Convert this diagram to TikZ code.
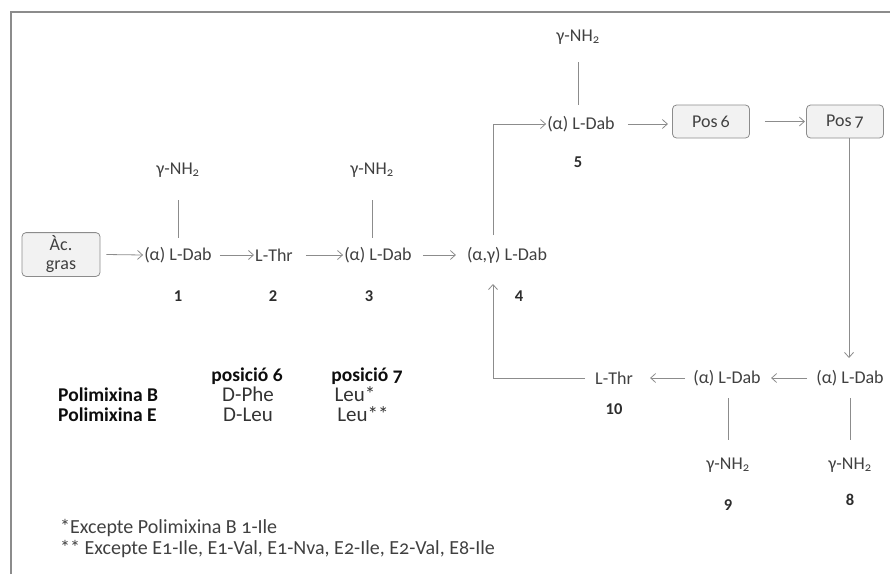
\documentclass[tikz,border=0pt]{standalone}
\usepackage{fontspec}
\setmainfont[Numbers=OldStyle]{Carlito}
\newfontfamily\liningfont{Carlito}
\usetikzlibrary{arrows.meta}
\definecolor{ln}{HTML}{8C8C8C}
\definecolor{tx}{HTML}{404040}
\definecolor{bx}{HTML}{F2F2F2}
\tikzset{
  aa/.style={text=tx, font=\fontsize{18}{20}\selectfont, inner sep=1pt},
  nh/.style={text=tx, font=\fontsize{18}{20}\selectfont, inner sep=1pt},
  num/.style={text=tx!70!black, font=\fontsize{16.5}{18}\selectfont\bfseries\liningfont, inner sep=1pt},
  posbox/.style={draw=ln, fill=bx, rounded corners=4pt, minimum width=77pt, minimum height=33pt, text=tx, font=\fontsize{18}{20}\selectfont, line width=0.8pt},
  conn/.style={draw=ln, line width=0.8pt, -{Straight Barb[length=5pt,width=9pt]}},
  bond/.style={draw=ln, line width=0.8pt},
  tbl/.style={font=\fontsize{21}{22}\selectfont, text=black!80, inner sep=0pt, text height=12pt, text depth=3pt},
  tblb/.style={font=\fontsize{19.5}{22}\selectfont\bfseries, text=black!95, inner sep=0pt, text height=12pt, text depth=3pt},
  foot/.style={font=\fontsize{20}{22}\selectfont, text=tx, inner sep=1pt, anchor=west}
}
\begin{document}
\begin{tikzpicture}[x=1pt,y=-1pt]
\useasboundingbox (0,0) rectangle (890,574);
\draw[ln, line width=1.2pt] (11,574) -- (11,12) -- (890,12);

% box
\node[posbox, minimum width=78pt, minimum height=43pt, align=center, font=\fontsize{18}{19}\selectfont] (ac) at (61,254.5) {Àc.\\gras};

% nodes
\node[aa] (n1) at (178,255) {(α) L-Dab};
\node[aa] (n2) at (274,255) {L-Thr};
\node[aa] (n3) at (378,255) {(α) L-Dab};
\node[aa] (n4) at (507,255) {(α,γ) L-Dab};
\node[aa] (n5) at (581,124) {(α) L-Dab};
\node[posbox] (p6) at (711,121.5) {Pos\,6};
\node[posbox] (p7) at (845,121.5) {Pos\,7};
\node[aa] (n8) at (850,378) {(α) L-Dab};
\node[aa] (n9) at (727,378) {(α) L-Dab};
\node[aa] (n10) at (614,378) {L-Thr};

% amino groups
\node[nh] (g1) at (178,170) {γ-NH\textsubscript{2}};
\node[nh] (g3) at (372,170) {γ-NH\textsubscript{2}};
\node[nh] (g5) at (578,37) {γ-NH\textsubscript{2}};
\node[nh] (g8) at (850,465) {γ-NH\textsubscript{2}};
\node[nh] (g9) at (728,465) {γ-NH\textsubscript{2}};

% numbers
\node[num] (l1) at (178,296) {1};
\node[num] (l2) at (273,296) {2};
\node[num] (l3) at (369,296) {3};
\node[num] (l4) at (519,296) {4};
\node[num] (l5) at (578,162) {5};
\node[num] (l8) at (850,500) {8};
\node[num] (l9) at (728,505) {9};
\node[num] (l10) at (614,409) {10};

% bonds
\draw[bond] (178,200) -- (178,238);
\draw[bond] (372,200) -- (372,238);
\draw[bond] (578,62) -- (578,105);
\draw[bond] (850,398) -- (850,440);
\draw[bond] (728,398) -- (728,440);

% connectors
\coordinate (c4a) at (493,235);
\coordinate (c4b) at (493,284);
\draw[conn] (ac.east) ++(6pt,0) -- (n1.west);
\draw[conn] (n1.east) ++(7pt,0) -- (n2.west);
\draw[conn] (n2.east) ++(12pt,0) -- (n3.west);
\draw[conn] (n3.east) ++(10pt,0) -- ++(33pt,0);
\draw[conn] (c4a) |- (n5.west);
\draw[conn] (n5.east) ++(12pt,0) -- ++(40pt,0);
\draw[conn] (p6.east) ++(15pt,0) -- ++(40pt,0);
\draw[conn] (p7.south) ++(4pt,0) -- (849,358);
\draw[conn] (n8.west) ++(-8pt,0) -- ++(-36pt,0);
\draw[conn] (n9.west) ++(-7pt,0) -- ++(-35pt,0);
\draw[conn] (n10.west) ++(-9pt,0) -| (c4b);

% table
\node[tblb] (h6) at (247,377) {posició 6};
\node[tblb] (h7) at (367,377) {posició 7};
\node[tblb, anchor=west] (pb) at (58,397) {Polimixina B};
\node[tblb, anchor=west] (pe) at (58,417) {Polimixina E};
\node[tbl] (b6) at (248,397) {D-Phe};
\node[tbl] (b7) at (355,397) {Leu*};
\node[tbl] (e6) at (248,417) {D-Leu};
\node[tbl] (e7) at (363,417) {Leu**};

% footnotes
\node[foot] (f1) at (59,528) {*Excepte Polimixina B 1-Ile};
\node[foot] (f2) at (59,549) {** Excepte E1-Ile, E1-Val, E1-Nva, E2-Ile, E2-Val, E8-Ile};
\end{tikzpicture}
\end{document}
